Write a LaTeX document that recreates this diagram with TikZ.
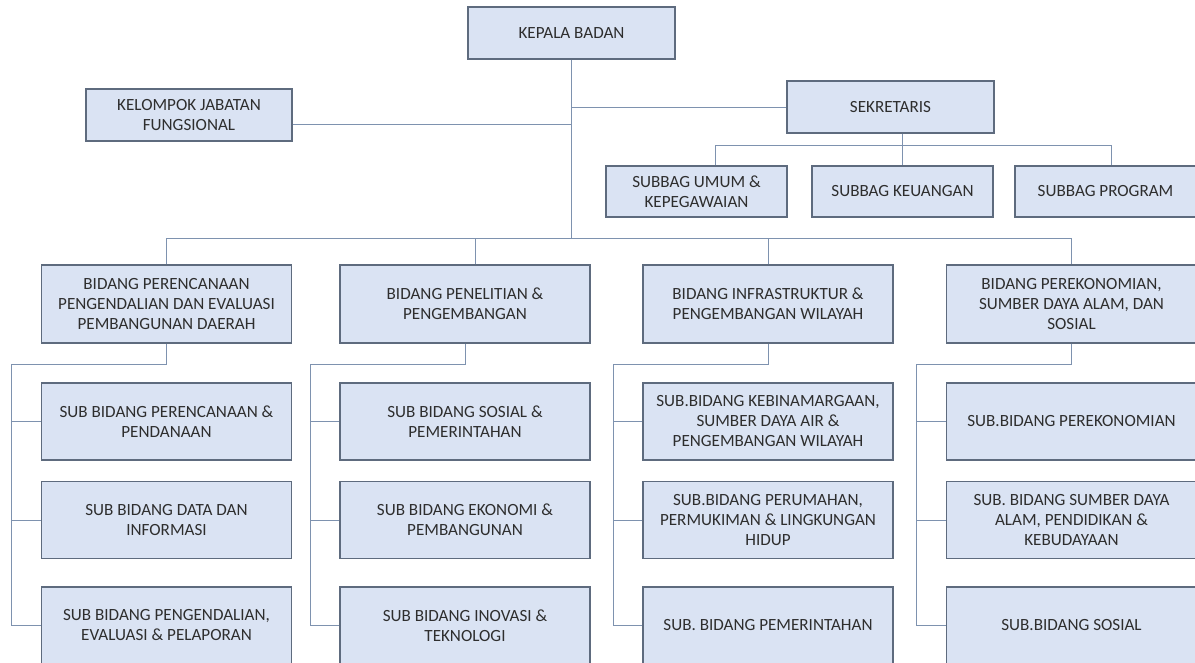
\documentclass[tikz,border=0pt]{standalone}
\usepackage{fontspec}
\setmainfont{Carlito}
\usepackage{xcolor}
\usepackage{tikz}
\usetikzlibrary{positioning}
\usetikzlibrary{calc}
\definecolor{boxfill}{HTML}{DAE3F3}
\definecolor{boxdraw}{HTML}{5E6B7E}
\definecolor{linkcol}{HTML}{7E92AF}
\definecolor{txtcol}{HTML}{2E2E2E}
\tikzstyle{unit} = [draw=boxdraw, fill=boxfill, line width=1.1pt, text=txtcol,
align=center, inner sep=0pt]
\tikzstyle{line} = [draw=linkcol, line width=1pt]

\begin{document}
\begin{tikzpicture}[x=1pt, y=-1pt, font=\fontsize{17.1}{20}\selectfont,
		pimpinan/.style={unit, minimum width=207pt, minimum height=52pt},
		subbag/.style={unit, minimum width=181pt, minimum height=51pt},
		bidang/.style={unit, minimum width=250pt, minimum height=78pt},
		subbid/.style={unit, minimum width=250pt, minimum height=77pt}]
		\path [fill=white, use as bounding box] (0,0) rectangle (1195,662);
		%% Pimpinan
		\node [pimpinan] (kepala) at (571.5,33) {KEPALA BADAN};
		\node [pimpinan, minimum width=206pt] (kjf) at (189,115) {KELOMPOK JABATAN\\FUNGSIONAL};
		\node [pimpinan] (sek) at (890.5,107) {SEKRETARIS};
		\node [subbag] (umum) at (696.5,191.5) {SUBBAG UMUM \&\\KEPEGAWAIAN};
		\node [subbag] (keu) at (902.5,191.5) {SUBBAG KEUANGAN};
		\node [subbag] (prog) at (1105.5,191.5) {SUBBAG PROGRAM};
		%% Bidang
		\node [bidang] (b1) at (166.5,304) {BIDANG PERENCANAAN\\PENGENDALIAN DAN EVALUASI\\PEMBANGUNAN DAERAH};
		\node [bidang] (b2) at (465,304) {BIDANG PENELITIAN \&\\PENGEMBANGAN};
		\node [bidang] (b3) at (768,304) {BIDANG INFRASTRUKTUR \&\\PENGEMBANGAN WILAYAH};
		\node [bidang] (b4) at (1071.5,304) {BIDANG PEREKONOMIAN,\\SUMBER DAYA ALAM, DAN\\SOSIAL};
		%% Sub bidang
		\node [subbid] (b1-1) at (166.5,421.5) {SUB BIDANG PERENCANAAN \&\\PENDANAAN};
		\node [subbid] (b1-2) at (166.5,520) {SUB BIDANG DATA DAN\\INFORMASI};
		\node [subbid] (b1-3) at (166.5,625.5) {SUB BIDANG PENGENDALIAN,\\EVALUASI \& PELAPORAN};
		\node [subbid] (b2-1) at (465,421.5) {SUB BIDANG SOSIAL \&\\PEMERINTAHAN};
		\node [subbid] (b2-2) at (465,520) {SUB BIDANG EKONOMI \&\\PEMBANGUNAN};
		\node [subbid] (b2-3) at (465,625.5) {SUB BIDANG INOVASI \&\\TEKNOLOGI};
		\node [subbid] (b3-1) at (768,421.5) {SUB.BIDANG KEBINAMARGAAN,\\SUMBER DAYA AIR \&\\PENGEMBANGAN WILAYAH};
		\node [subbid] (b3-2) at (768,520) {SUB.BIDANG PERUMAHAN,\\PERMUKIMAN \& LINGKUNGAN\\HIDUP};
		\node [subbid] (b3-3) at (768,625.5) {SUB. BIDANG PEMERINTAHAN};
		\node [subbid] (b4-1) at (1071.5,421.5) {SUB.BIDANG PEREKONOMIAN};
		\node [subbid] (b4-2) at (1071.5,520) {SUB. BIDANG SUMBER DAYA\\ALAM, PENDIDIKAN \&\\KEBUDAYAAN};
		\node [subbid] (b4-3) at (1071.5,625.5) {SUB.BIDANG SOSIAL};
		%% Garis
		\coordinate (bar) at (0,239);
		\coordinate (kjfE) at ([yshift=-9pt]kjf.east);
		\path [line] (kepala.south) -- (kepala.south |- bar);
		\path [line] (kjfE) -- (kjfE -| kepala.south);
		\path [line] (sek.west) -- (sek.west -| kepala.south);
		\path [line] (keu.north |- sek.south) -- (keu.north);
		\path [line] ([xshift=19pt]umum.north) -- ++(0,-20) -| ([xshift=6pt]prog.north);
		\path [line] (b1.north) -- ++(0,-26) -| (b4.north);
		\path [line] ([xshift=10pt]b2.north) -- ++(0,-26);
		\path [line] (b3.north) -- ++(0,-26);
		\foreach \b in {b1,b2,b3,b4} {
			\path [line] (\b.south) -- ++(0,21) -| ([xshift=-29pt]\b-3.west) -- (\b-3.west);
			\path [line] ([xshift=-29pt]\b-1.west) -- (\b-1.west);
			\path [line] ([xshift=-29pt]\b-2.west) -- (\b-2.west);
		}
	\end{tikzpicture}
\end{document}
